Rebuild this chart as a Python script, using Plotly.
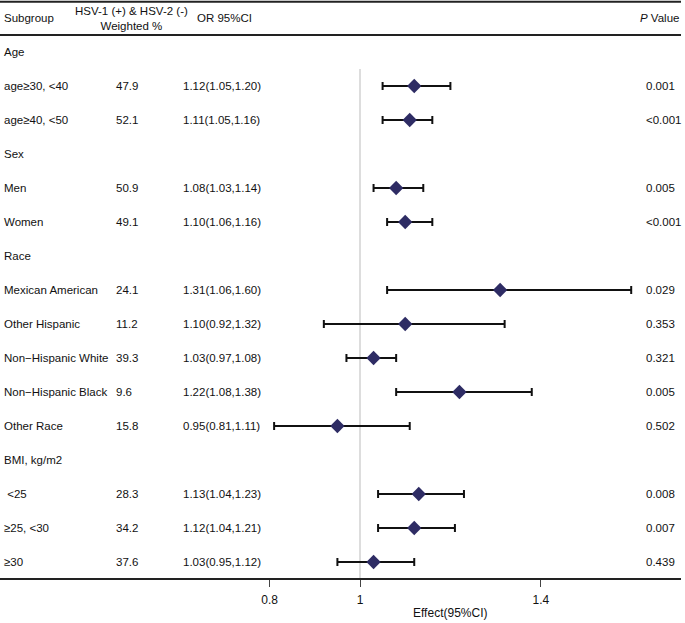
import plotly.graph_objects as go

subgroups = ["Age", "age≥30, <40", "age≥40, <50", "Sex", "Men", "Women", "Race",
             "Mexican American", "Other Hispanic", "Non−Hispanic White", "Non−Hispanic Black",
             "Other Race", "BMI, kg/m2", " <25", "≥25, <30", "≥30"]
weighted = ["", "47.9", "52.1", "", "50.9", "49.1", "", "24.1", "11.2", "39.3", "9.6",
            "15.8", "", "28.3", "34.2", "37.6"]
or_text = ["", "1.12(1.05,1.20)", "1.11(1.05,1.16)", "", "1.08(1.03,1.14)", "1.10(1.06,1.16)", "",
           "1.31(1.06,1.60)", "1.10(0.92,1.32)", "1.03(0.97,1.08)", "1.22(1.08,1.38)",
           "0.95(0.81,1.11)", "", "1.13(1.04,1.23)", "1.12(1.04,1.21)", "1.03(0.95,1.12)"]
p_values = ["", "0.001", "<0.001", "", "0.005", "<0.001", "", "0.029", "0.353", "0.321",
            "0.005", "0.502", "", "0.008", "0.007", "0.439"]
estimate = [None, 1.12, 1.11, None, 1.08, 1.10, None, 1.31, 1.10, 1.03, 1.22, 0.95, None, 1.13, 1.12, 1.03]
lower = [None, 1.05, 1.05, None, 1.03, 1.06, None, 1.06, 0.92, 0.97, 1.08, 0.81, None, 1.04, 1.04, 0.95]
upper = [None, 1.20, 1.16, None, 1.14, 1.16, None, 1.60, 1.32, 1.08, 1.38, 1.11, None, 1.23, 1.21, 1.12]
tick_vals = [0.8, 1, 1.4]
tick_text = ["0.8", "1", "1.4"]

W, H = 685, 623
ML, MR, MB, MT = 0, 4, 45, 0
PW = W - ML - MR
FONT = "Arial, Liberation Sans, sans-serif"

rows = list(range(len(subgroups)))
xs, ys, ep, em = [], [], [], []
for i, (e, lo, up) in enumerate(zip(estimate, lower, upper)):
    if e is None:
        continue
    xs.append(e); ys.append(i); ep.append(up - e); em.append(e - lo)

fig = go.Figure()
fig.add_trace(go.Scatter(
    x=xs, y=ys, mode="markers",
    marker=dict(symbol="diamond", size=11, color="#2E2C64", line=dict(width=0)),
    error_x=dict(type="data", symmetric=False, array=ep, arrayminus=em,
                 color="#111111", thickness=2, width=4),
    showlegend=False, hoverinfo="skip"))

# x-range so that 1 sits at pixel 360 with 452 px per unit
px_per = 452.0
x0 = 1 - 360 / px_per
x1 = 1 + (PW - 360) / px_per
# y: row i at pixel 52 + 34 i ; plot from 0 to 578
y_top = -52 / 34
y_bot = (578 - 52) / 34

def px(xp):
    return xp / PW

ann = []
def add(text, xp, y, anchor="left", size=11.5, yref="y", yshift=0):
    ann.append(dict(text=text, x=px(xp), xref="paper", y=y, yref=yref, xanchor=anchor,
                    yanchor="middle", showarrow=False, yshift=yshift,
                    font=dict(family=FONT, size=size, color="#111111")))

# header
add("Subgroup", 2, -1)
add("HSV-1 (+) &amp; HSV-2 (-)<br>Weighted %", 131, -1, anchor="center")
add("OR 95%CI", 195, -1)
add("<i>P</i> Value", 681, -1, anchor="right")
for i in rows:
    add(subgroups[i], 2, i)
    if weighted[i]:
        add(weighted[i], 114, i)
    if or_text[i]:
        add(or_text[i], 181, i)
    if p_values[i]:
        add(p_values[i], 644, i)

ann.append(dict(text="Effect(95%CI)", x=1.2, xref="x", y=0, yref="paper", yshift=-35,
                xanchor="center", yanchor="middle", showarrow=False,
                font=dict(family=FONT, size=12, color="#111111")))

shapes = [
    dict(type="line", xref="paper", yref="y", x0=0, x1=1, y0=-1.48, y1=-1.48,
         line=dict(color="#222222", width=2)),
    dict(type="line", xref="paper", yref="y", x0=0, x1=1, y0=-0.5, y1=-0.5,
         line=dict(color="#222222", width=2)),
    dict(type="line", xref="x", yref="y", x0=1, x1=1, y0=0.5, y1=y_bot,
         line=dict(color="#BBBBBB", width=1), layer="below"),
]

fig.update_layout(
    width=W, height=H, margin=dict(l=ML, r=MR, t=MT, b=MB),
    paper_bgcolor="white", plot_bgcolor="white",
    font=dict(family=FONT, size=12, color="#111111"),
    xaxis=dict(range=[x0, x1], tickvals=tick_vals, ticktext=tick_text, ticks="outside",
               ticklen=7, tickwidth=1, tickcolor="#444444", showgrid=False, zeroline=False,
               showline=True, linecolor="#222222", linewidth=2, tickfont=dict(size=12),
               ticklabelstandoff=3, fixedrange=True),
    yaxis=dict(range=[y_bot, y_top], showticklabels=False, showgrid=False, zeroline=False,
               showline=False, ticks="", fixedrange=True),
    annotations=ann, shapes=shapes,
)

fig.write_html("out.html", config={"displayModeBar": False, "staticPlot": True},
               post_script="document.body.style.margin='0';document.body.style.overflow='hidden';")
